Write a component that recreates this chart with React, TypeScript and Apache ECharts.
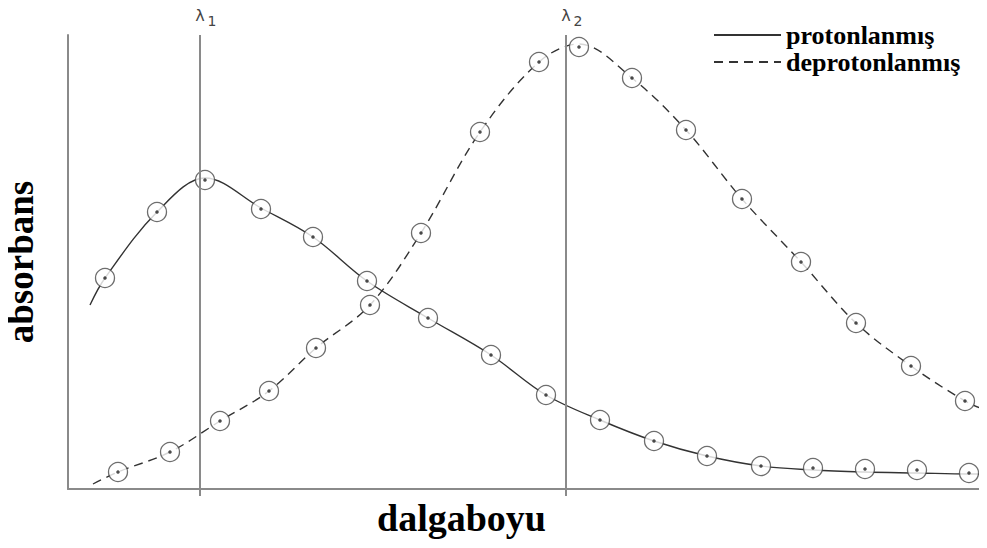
import React, { useEffect, useRef } from "react";
import * as echarts from "echarts";

// Measured marker positions (arbitrary wavelength units, arbitrary absorbance units)
const protonX = [37, 89, 137, 193, 245, 299, 360, 423, 478, 532, 586, 639, 693, 745, 797, 849, 901];
const protonY = [211, 277, 309, 280, 252, 208, 171, 134, 94, 69, 48, 33, 23, 21, 20, 19, 16];
const deprotonX = [50, 102, 152, 201, 248, 302, 353, 412, 471, 511, 564, 618, 674, 733, 788, 843, 897];
const deprotonY = [17, 37, 68, 98, 141, 184, 256, 357, 427, 442, 411, 359, 290, 227, 166, 123, 88];

// Fitted curves
const protonCurveX = [22, 37, 89, 137, 193, 245, 299, 360, 423, 478, 532, 586, 639, 693, 745, 797, 849, 901, 919];
const protonCurveY = [184, 211, 277, 311, 281, 252, 208, 171, 134, 94, 69, 48, 33, 23, 19, 17, 16, 15, 15];
const deprotonCurveX = [25, 50, 102, 152, 201, 248, 302, 353, 412, 471, 511, 564, 618, 674, 733, 788, 843, 897, 917];
const deprotonCurveY = [5, 17, 37, 68, 98, 141, 184, 256, 357, 427, 445, 411, 359, 290, 227, 166, 123, 88, 79];

const lambdaX = [132, 498];
const lambdaLabels = ["1", "2"];
const seriesNames = ["protonlanmış", "deprotonlanmış"];

const zip = (xs: number[], ys: number[]) => xs.map((x, i) => [x, ys[i]]);

export default function App() {
  const ref = useRef<HTMLDivElement>(null);
  useEffect(() => {
    if (!ref.current) return;
    const chart = echarts.init(ref.current, undefined, { renderer: "svg" });
    const serif = "'Liberation Serif', 'Times New Roman', serif";
    const sans = "'DejaVu Sans', sans-serif";
    const axisColor = "#8a8a8a";
    const circleStyle = {
      color: "#ffffff",
      borderColor: "#4a4a4a",
      borderWidth: 1.3,
    };
    chart.setOption({
      animation: false,
      backgroundColor: "#ffffff",
      grid: { left: 68, right: 0, top: 35, bottom: 59, outerBoundsMode: "none", containLabel: false },
      legend: {
        data: seriesNames,
        orient: "vertical",
        left: 708,
        top: 17,
        itemWidth: 67,
        itemHeight: 14,
        itemGap: 1,
        itemStyle: { opacity: 0 },
        textStyle: {
          fontFamily: serif,
          fontWeight: "bold",
          fontSize: 26,
          lineHeight: 26,
          color: "#000",
        },
      },
      xAxis: {
        type: "value",
        min: 0,
        max: 919,
        axisLine: { show: true, lineStyle: { color: axisColor, width: 2 } },
        axisTick: {
          show: true,
          customValues: lambdaX,
          length: 7,
          lineStyle: { color: axisColor, width: 2 },
        },
        axisLabel: { show: false },
        splitLine: { show: false },
        name: "dalgaboyu",
        nameLocation: "middle",
        nameGap: 10,
        nameTextStyle: {
          fontFamily: serif,
          fontWeight: "bold",
          fontSize: 38,
          color: "#000",
          padding: [0, 132, 0, 0],
        },
      },
      yAxis: {
        type: "value",
        min: 0,
        max: 454,
        axisLine: { show: true, lineStyle: { color: axisColor, width: 2 } },
        axisTick: { show: false },
        axisLabel: { show: false },
        splitLine: { show: false },
        name: "absorbans",
        nameLocation: "middle",
        nameRotate: 90,
        nameGap: 29,
        nameTextStyle: {
          fontFamily: serif,
          fontWeight: "bold",
          fontSize: 37,
          color: "#000",
        },
      },
      series: [
        {
          name: seriesNames[0],
          type: "line",
          data: zip(protonCurveX, protonCurveY),
          smooth: 0.35,
          symbol: "none",
          lineStyle: { color: "#333", width: 1.4, type: "solid" },
          itemStyle: { color: "#333" },
          z: 2,
          markLine: {
            silent: true,
            symbol: "none",
            label: { show: false },
            lineStyle: { color: axisColor, width: 2, type: "solid" },
            data: lambdaX.map((x) => ({ xAxis: x })),
          },
        },
        {
          name: seriesNames[1],
          type: "line",
          data: zip(deprotonCurveX, deprotonCurveY),
          smooth: 0.35,
          symbol: "none",
          lineStyle: { color: "#333", width: 1.4, type: [9, 6] },
          itemStyle: { color: "#333" },
          z: 2,
        },
        {
          name: "protonMarkers",
          type: "scatter",
          data: zip(protonX, protonY),
          symbol: "circle",
          symbolSize: 19,
          itemStyle: circleStyle,
          z: 3,
        },
        {
          name: "deprotonMarkers",
          type: "scatter",
          data: zip(deprotonX, deprotonY),
          symbol: "circle",
          symbolSize: 19,
          itemStyle: circleStyle,
          z: 3,
        },
        {
          name: "protonDots",
          type: "scatter",
          data: zip(protonX, protonY),
          symbol: "circle",
          symbolSize: 3.5,
          itemStyle: { color: "#222" },
          z: 4,
        },
        {
          name: "deprotonDots",
          type: "scatter",
          data: zip(deprotonX, deprotonY),
          symbol: "circle",
          symbolSize: 3.5,
          itemStyle: { color: "#222" },
          z: 4,
        },
      ],
    });

    // λ labels placed at the λ lines through the axis scale
    const graphics: any[] = [];
    lambdaX.forEach((x, i) => {
      const px = chart.convertToPixel({ xAxisIndex: 0 }, x) as number;
      graphics.push({
        type: "text",
        x: px,
        y: 15,
        style: {
          text: "λ",
          font: "16px " + sans,
          fill: "#444",
          align: "center",
          verticalAlign: "middle",
        },
      });
      graphics.push({
        type: "text",
        x: px + 12,
        y: 21,
        style: {
          text: lambdaLabels[i],
          font: "14px " + sans,
          fill: "#444",
          align: "center",
          verticalAlign: "middle",
        },
      });
    });
    chart.setOption({ graphic: graphics });

    return () => chart.dispose();
  }, []);
  return <div ref={ref} style={{ width: 987, height: 548, margin: -8 }} />;
}
